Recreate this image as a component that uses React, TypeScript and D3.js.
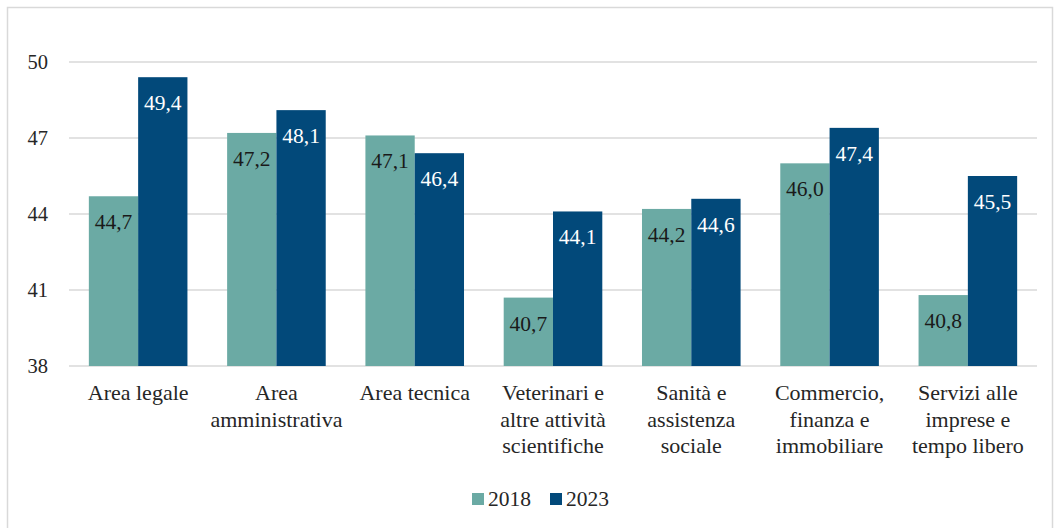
import React from "react";
import * as d3 from "d3";

const categories: string[][] = [
  ["Area legale"],
  ["Area", "amministrativa"],
  ["Area tecnica"],
  ["Veterinari e", "altre attività", "scientifiche"],
  ["Sanità e", "assistenza", "sociale"],
  ["Commercio,", "finanza e", "immobiliare"],
  ["Servizi alle", "imprese e", "tempo libero"],
];
const values2018 = [44.7, 47.2, 47.1, 40.7, 44.2, 46.0, 40.8];
const values2023 = [49.4, 48.1, 46.4, 44.1, 44.6, 47.4, 45.5];
const seriesNames = ["2018", "2023"];
const yTicks = [38, 41, 44, 47, 50];

const W = 1055;
const H = 528;
const FONT = '"Liberation Serif", "DejaVu Serif", "Times New Roman", serif';
const colors = ["#6BAAA4", "#02497A"];
const labelColors = ["#1a1a1a", "#ffffff"];

export default function App() {
  const x = d3
    .scaleBand<number>()
    .domain(d3.range(categories.length))
    .range([69, 1037])
    .paddingInner(0.287)
    .paddingOuter(0.1435);
  const x1 = d3.scaleBand<number>().domain([0, 1]).range([0, x.bandwidth()]);
  const y = d3.scaleLinear().domain([38, 50]).range([366, 62]);
  const fmt = (v: number) => v.toFixed(1).replace(".", ",");
  const series = [values2018, values2023];
  const textStyle = { fontFamily: FONT };

  return (
    <svg
      width={W}
      height={H}
      style={{ position: "absolute", left: 0, top: 0, background: "#fff", fontFamily: FONT }}
    >
      <rect x={7.5} y={7.5} width={1045} height={540} fill="#fff" stroke="#D9D9D9" strokeWidth={1.5} />
      {yTicks.map((t) => (
        <g key={t}>
          <line x1={69} x2={1037} y1={y(t)} y2={y(t)} stroke="#D9D9D9" strokeWidth={1.5} />
          <text x={48} y={y(t) + 7} textAnchor="end" fontSize={20.5} fill="#262626" style={textStyle}>
            {t}
          </text>
        </g>
      ))}
      {categories.map((c, i) => (
        <g key={i} transform={`translate(${x(i)},0)`}>
          {series.map((s, k) => (
            <g key={k}>
              <rect
                x={x1(k)}
                y={y(s[i])}
                width={x1.bandwidth()}
                height={y(38) - y(s[i])}
                fill={colors[k]}
              />
              <text
                x={(x1(k) as number) + x1.bandwidth() / 2}
                y={y(s[i]) + 33}
                textAnchor="middle"
                fontSize={21.5}
                fill={labelColors[k]}
                style={textStyle}
              >
                {fmt(s[i])}
              </text>
            </g>
          ))}
          {c.map((line, j) => (
            <text
              key={j}
              x={x.bandwidth() / 2}
              y={400 + j * 26.5}
              textAnchor="middle"
              fontSize={22}
              fill="#262626"
              style={textStyle}
            >
              {line}
            </text>
          ))}
        </g>
      ))}
      {seriesNames.map((n, k) => (
        <g key={n} transform={`translate(${472 + k * 78},493)`}>
          <rect x={0} y={0} width={12} height={12} fill={colors[k]} />
          <text x={16} y={13} fontSize={21.5} fill="#262626" style={textStyle}>
            {n}
          </text>
        </g>
      ))}
    </svg>
  );
}
